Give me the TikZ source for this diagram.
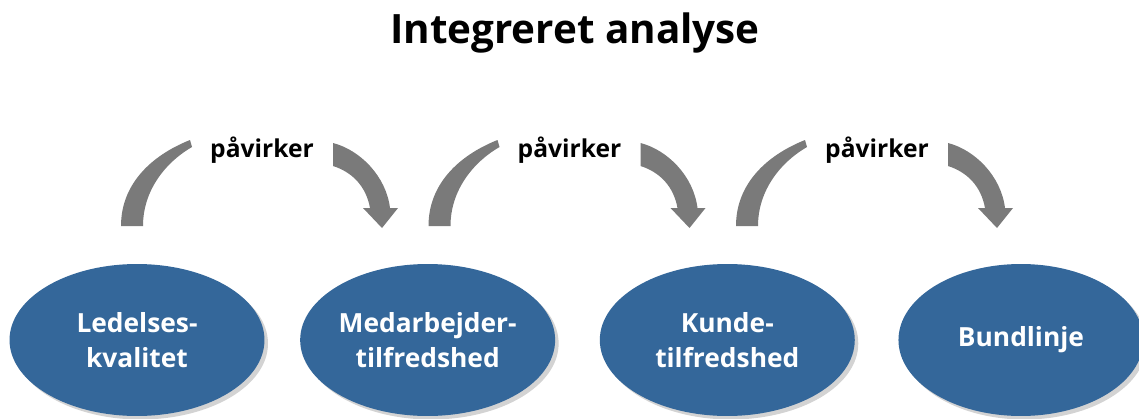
\documentclass[tikz,border=0pt]{standalone}
\usepackage{fontspec}
\setmainfont{Open Sans}
\usepackage{tikz}
\usetikzlibrary{shapes.geometric, positioning, shadows}
\definecolor{ellblue}{RGB}{52,103,154}
\definecolor{arcgray}{RGB}{122,122,122}
\tikzstyle{oval} = [ellipse, fill=ellblue, text=white, inner sep=0pt, minimum width=5.1cm, minimum height=3.04cm, align=center, font=\bfseries\fontsize{15}{20}\selectfont, drop shadow={opacity=0.35, shadow xshift=2pt, shadow yshift=-2pt}]
\tikzstyle{arc} = [fill=arcgray, draw=none]
\tikzstyle{label} = [font=\bfseries\fontsize{14}{16}\selectfont]

\begin{document}
\begin{tikzpicture}[x=0.02cm, y=-0.02cm]
  \useasboundingbox (0,0) rectangle (1139,419);
  \node[font=\bfseries\fontsize{23}{26}\selectfont] (title) at (575,33) {Integreret analyse};

  \node[oval] (led) at (137,340) {Ledelses-\\kvalitet};
  \node[oval, right=0.7cm of led] (med) {Medarbejder-\\tilfredshed};
  \node[oval, right=0.88cm of med] (kunde) {Kunde-\\tilfredshed};
  \node[oval, minimum width=4.9cm, right=0.86cm of kunde] (bund) {Bundlinje};

  % paavirker-pile mellem ovalerne
  \foreach \i/\dx in {1/0, 2/307.5, 3/615} {
    \begin{scope}[xshift=\dx*0.02cm]
      \fill[arc] (121,226) .. controls (121,185) and (150,156) .. (190,140)
        -- (192,147) .. controls (166,162) and (143,190) .. (143,226) -- cycle;
      \fill[arc] (333,143) .. controls (360,150) and (386,176) .. (390,208)
        -- (398,208) -- (382,228) -- (363,208) -- (370,208)
        .. controls (366,186) and (352,172) .. (333,166) -- cycle;
    \end{scope}
    \node[label] (pv\i) at (262+\dx,150) {påvirker};
  }
\end{tikzpicture}
\end{document}
